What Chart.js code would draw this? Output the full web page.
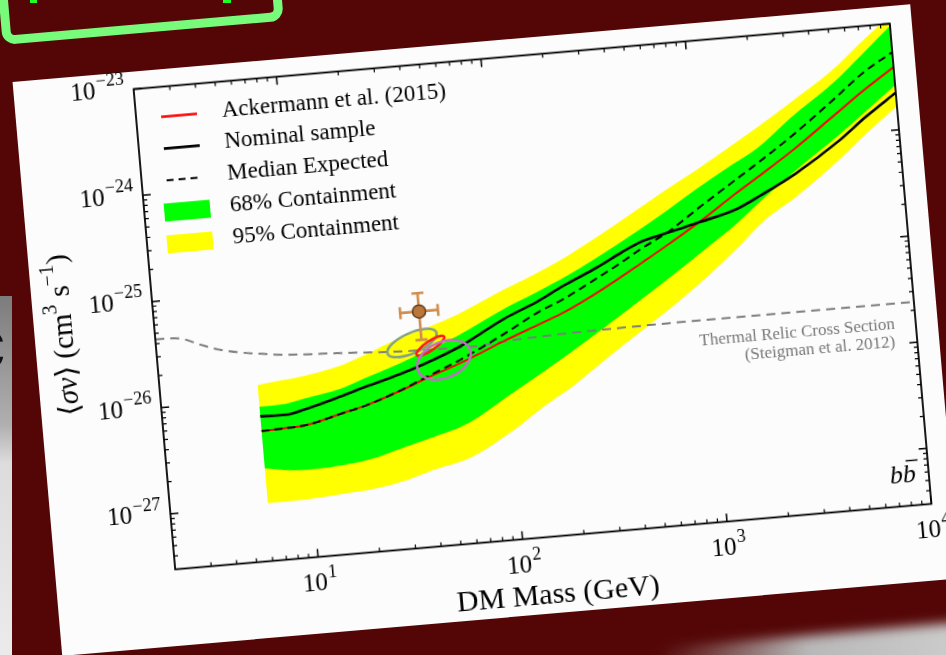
<!DOCTYPE html>
<html><head><meta charset="utf-8">
<script src="https://cdn.jsdelivr.net/npm/chart.js@4.4.1/dist/chart.umd.min.js"></script>
<style>
html,body{margin:0;padding:0;}
body{width:946px;height:655px;overflow:hidden;background:#540606;position:relative;}
#titlebox{position:absolute;left:-2px;top:-67px;width:282px;height:100px;box-sizing:border-box;border:9px solid #78fb7a;border-radius:13px;transform:rotate(-4.95deg);}
.gbit{position:absolute;top:0;height:3px;background:#22ff22;}
#strip{position:absolute;left:0;top:296px;width:12px;height:370px;background:linear-gradient(to bottom,#7c7c7c 0%,#b0b0b0 35%,#dcdcdc 45%,#ececec 100%);overflow:hidden;}
#strip span{position:absolute;left:-30px;top:8px;font:70px "Liberation Sans",sans-serif;color:#111;}
#floor{position:absolute;left:660px;top:634px;width:330px;height:50px;background:linear-gradient(to right,rgba(190,190,190,0) 0%,#b8b8b8 45%,#d0d0d0 100%);filter:blur(6px);transform:rotate(-4.95deg);}
#rot{position:absolute;left:0;top:0;width:946px;height:655px;transform-origin:532.5px 296.5px;transform:rotate(-4.95deg);}
#card{position:absolute;left:33px;top:38px;width:901px;height:576px;background:#fcfcfc;}
canvas{position:absolute;left:0;top:0;}
</style></head>
<body>
<div id="titlebox"></div>
<div class="gbit" style="left:30px;width:7px"></div>
<div class="gbit" style="left:223px;width:8px"></div>
<div id="strip"><span>c</span></div>
<div id="floor"></div>
<div id="rot">
  <div id="card"></div>
  <canvas id="c" width="946" height="655"></canvas>
</div>
<script>
// ---------------- data ----------------
const lineMass       = [6,7,8,10,15,20,30,40,60,100,150,200,300,400,500,700,1000,1500,2000,3000,5000,7000,10000];
const nominalSample  = [6.9e-27,6.8e-27,6.8e-27,7.4e-27,9.1e-27,1.07e-26,1.32e-26,1.58e-26,2.14e-26,3.55e-26,4.9e-26,6.46e-26,9.1e-26,1.2e-25,1.45e-25,1.7e-25,2.0e-25,2.45e-25,3.16e-25,4.7e-25,8.7e-25,1.41e-24,2.24e-24];
const ackermann2015  = [5.0e-27,5.05e-27,5.1e-27,5.25e-27,6.3e-27,7.2e-27,9.3e-27,1.15e-26,1.51e-26,2.24e-26,3.0e-26,3.7e-26,5.4e-26,7.3e-26,9.3e-26,1.35e-25,2.04e-25,3.4e-25,4.8e-25,7.9e-25,1.58e-24,2.5e-24,3.9e-24];
const medianExpected = [5.0e-27,5.05e-27,5.1e-27,5.25e-27,6.3e-27,7.2e-27,9.4e-27,1.18e-26,1.62e-26,2.6e-26,3.9e-26,4.9e-26,7.3e-26,9.8e-26,1.25e-25,1.75e-25,2.75e-25,4.5e-25,6.4e-25,1.07e-24,2.2e-24,3.6e-24,5.4e-24];

const bandMass    = [6,8,10,15,20,30,40,60,100,150,200,300,500,700,1000,1500,2000,3000,5000,7000,10000];
const band95Upper = [1.36e-26,1.44e-26,1.51e-26,1.74e-26,2.09e-26,2.82e-26,3.31e-26,4.27e-26,6.53e-26,8.9e-26,1.135e-25,1.70e-25,2.95e-25,4.27e-25,6.17e-25,9.66e-25,1.33e-24,2.16e-24,4.07e-24,6.9e-24,1.17e-23];
const band68Upper = [8.5e-27,8.6e-27,9.3e-27,1.07e-26,1.29e-26,1.66e-26,2.04e-26,2.75e-26,4.37e-26,6.0e-26,7.6e-26,1.12e-25,1.9e-25,2.75e-25,4.17e-25,6.46e-25,8.7e-25,1.58e-24,3.1e-24,5.3e-24,9.5e-24];
const band68Lower = [2.24e-27,2.04e-27,2.0e-27,2.09e-27,2.24e-27,2.75e-27,3.16e-27,3.98e-27,6.9e-27,1.07e-26,1.48e-26,2.4e-26,4.47e-26,6.76e-26,1.07e-25,1.82e-25,2.82e-25,5.0e-25,9.8e-25,1.58e-24,2.63e-24];
const band95Lower = [1.05e-27,1.05e-27,1.07e-27,1.12e-27,1.17e-27,1.35e-27,1.58e-27,1.9e-27,3.16e-27,5.25e-27,7.2e-27,1.23e-26,2.34e-26,3.6e-26,5.9e-26,1.1e-25,1.78e-25,2.9e-25,5.9e-25,1.0e-24,1.66e-24];

const thermalMass  = [2,2.6,3.3,4,5,6,8,10,15,20,30,50,70,100,200,500,1000,2000,5000,10000];
const thermalRelic = [4.4e-26,4.3e-26,3.6e-26,3.15e-26,2.85e-26,2.7e-26,2.5e-26,2.42e-26,2.33e-26,2.25e-26,2.15e-26,2.1e-26,2.08e-26,2.2e-26,2.32e-26,2.38e-26,2.4e-26,2.4e-26,2.4e-26,2.4e-26];

const gceMass = [39.2], gceSigma = [4.9e-26];
const gceMassLow = [31.7], gceMassHigh = [48.5];
const gceSigmaLow = [2.65e-26], gceSigmaHigh = [7.3e-26];

const contourColors    = ['#84a184','#ff1a1a','#c46cc8'];
const contourAxisStart = [[26.5,2.09e-26],[36.6,1.93e-26],[36.6,1.37e-26]];
const contourAxisEnd   = [[46.6,3.04e-26],[50.6,2.73e-26],[66.7,1.99e-26]];
const contourMinor     = [0.38,0.28,0.64];

const xMajorTicks = [10,100,1000,10000];
const xTickExp    = ['1','2','3','4'];
const yMajorTicks = [1e-27,1e-26,1e-25,1e-24,1e-23];
const yTickExp    = ['\u221227','\u221226','\u221225','\u221224','\u221223'];

const xLabel = 'DM Mass (GeV)';
const thermalText = ['Thermal Relic Cross Section','(Steigman et al. 2012)'];

// ---------------- helpers ----------------
const SERIF = '"Liberation Serif","DejaVu Serif",serif';
const pts = (xs, ys) => xs.map((x, i) => ({x, y: ys[i]}));

const common = {pointRadius:0, borderWidth:0, borderColor:'rgba(0,0,0,0)', clip:0, cubicInterpolationMode:'monotone'};

const datasets = [
  {...common, label:'95% Containment', data:pts(bandMass, band95Upper), fill:'+1', backgroundColor:'#ffff00', order:10, kind:'patch'},
  {...common, label:'_95lo', data:pts(bandMass, band95Lower), fill:false, order:10},
  {...common, label:'68% Containment', data:pts(bandMass, band68Upper), fill:'+1', backgroundColor:'#00ff00', order:9, kind:'patch'},
  {...common, label:'_68lo', data:pts(bandMass, band68Lower), fill:false, order:9},
  {...common, label:'_thermal', data:pts(thermalMass, thermalRelic), fill:false, borderColor:'#7d7d7d', borderWidth:2, borderDash:[9,6], order:6},
  {...common, label:'Ackermann et al. (2015)', data:pts(lineMass, ackermann2015), fill:false, borderColor:'#ff0000', borderWidth:2, order:5, kind:'line'},
  {...common, label:'Median Expected', data:pts(lineMass, medianExpected), fill:false, borderColor:'#000', borderWidth:2, borderDash:[8,5], order:4, kind:'dash'},
  {...common, label:'Nominal sample', data:pts(lineMass, nominalSample), fill:false, borderColor:'#000', borderWidth:2.6, order:3, kind:'line'},
  {label:'_gce', data:pts(gceMass, gceSigma), showLine:false, pointRadius:6.5, pointBackgroundColor:'#b9773b', pointBorderColor:'#5e3d1c', pointBorderWidth:1.5, clip:false, order:0}
];
const legendOrder = ['Ackermann et al. (2015)','Nominal sample','Median Expected','68% Containment','95% Containment'];

function drawRich(ctx, pieces, x, y, align) {
  let W = 0;
  pieces.forEach(p => { ctx.font = p.f; p.w = ctx.measureText(p.t).width; W += p.w + (p.gap||0); });
  let cx = align === 'right' ? x - W : (align === 'left' ? x : x - W / 2);
  ctx.textAlign = 'left'; ctx.textBaseline = 'middle';
  pieces.forEach(p => { ctx.font = p.f; ctx.fillText(p.t, cx + (p.gap||0), y + (p.dy||0)); cx += p.w + (p.gap||0); });
}

const decor = {
  id: 'decor',
  beforeDatasetDraw(chart, args) {
    if (args.index !== datasets.length - 1) return;
    const {ctx, scales:{x, y}} = chart;
    ctx.save();
    contourColors.forEach((col, i) => {
      const x1 = x.getPixelForValue(contourAxisStart[i][0]), y1 = y.getPixelForValue(contourAxisStart[i][1]);
      const x2 = x.getPixelForValue(contourAxisEnd[i][0]),   y2 = y.getPixelForValue(contourAxisEnd[i][1]);
      const rx = Math.hypot(x2 - x1, y2 - y1) / 2;
      ctx.beginPath();
      ctx.ellipse((x1 + x2) / 2, (y1 + y2) / 2, rx, rx * contourMinor[i], Math.atan2(y2 - y1, x2 - x1), 0, Math.PI * 2);
      ctx.strokeStyle = col; ctx.lineWidth = 2.6; ctx.stroke();
    });
    ctx.strokeStyle = '#cf8d4e'; ctx.lineWidth = 2.6; ctx.lineCap = 'butt';
    gceMass.forEach((m, i) => {
      const px = x.getPixelForValue(m), py = y.getPixelForValue(gceSigma[i]);
      const xl = x.getPixelForValue(gceMassLow[i]), xh = x.getPixelForValue(gceMassHigh[i]);
      const yl = y.getPixelForValue(gceSigmaLow[i]), yh = y.getPixelForValue(gceSigmaHigh[i]);
      const c = 6;
      ctx.beginPath();
      ctx.moveTo(xl, py); ctx.lineTo(xh, py);
      ctx.moveTo(px, yl); ctx.lineTo(px, yh);
      ctx.moveTo(xl, py - c); ctx.lineTo(xl, py + c);
      ctx.moveTo(xh, py - c); ctx.lineTo(xh, py + c);
      ctx.moveTo(px - c, yl); ctx.lineTo(px + c, yl);
      ctx.moveTo(px - c, yh); ctx.lineTo(px + c, yh);
      ctx.stroke();
    });
    ctx.restore();
  },
  afterDraw(chart) {
    const {ctx, chartArea:a, scales:{x, y}} = chart;
    ctx.save();
    ctx.strokeStyle = '#000'; ctx.fillStyle = '#000';
    ctx.lineWidth = 1.2;
    ctx.beginPath();
    for (let d = 1; d <= 1000; d *= 10) for (let k = 2; k <= 9; k++) {
      const v = k * d; if (v <= x.min || v >= x.max) continue;
      const px = x.getPixelForValue(v);
      ctx.moveTo(px, a.bottom); ctx.lineTo(px, a.bottom - 4);
      ctx.moveTo(px, a.top); ctx.lineTo(px, a.top + 4);
    }
    for (let d = 1e-28; d <= 1e-24; d *= 10) for (let k = 2; k <= 9; k++) {
      const v = k * d; if (v <= y.min * 0.999 || v >= y.max) continue;
      const py = y.getPixelForValue(v);
      ctx.moveTo(a.left, py); ctx.lineTo(a.left + 4, py);
      ctx.moveTo(a.right, py); ctx.lineTo(a.right - 4, py);
    }
    ctx.stroke();
    ctx.lineWidth = 1.5;
    ctx.beginPath();
    xMajorTicks.forEach(v => { const px = x.getPixelForValue(v);
      ctx.moveTo(px, a.bottom); ctx.lineTo(px, a.bottom - 8);
      ctx.moveTo(px, a.top); ctx.lineTo(px, a.top + 8); });
    yMajorTicks.forEach(v => { const py = y.getPixelForValue(v);
      ctx.moveTo(a.left, py); ctx.lineTo(a.left + 8, py);
      ctx.moveTo(a.right, py); ctx.lineTo(a.right - 8, py); });
    ctx.stroke();
    ctx.lineWidth = 1.8;
    ctx.strokeRect(a.left, a.top, a.right - a.left, a.bottom - a.top);
    // tick labels
    const F1 = '25px ' + SERIF, F2 = '18px ' + SERIF;
    xMajorTicks.forEach((v, i) => drawRich(ctx, [{t:'10', f:F1}, {t:xTickExp[i], f:F2, dy:-10, gap:1}], x.getPixelForValue(v), a.bottom + 27, 'center'));
    yMajorTicks.forEach((v, i) => drawRich(ctx, [{t:'10', f:F1}, {t:yTickExp[i], f:F2, dy:-10, gap:1}], a.left - 9, y.getPixelForValue(v), 'right'));
    // axis titles
    ctx.font = '30px ' + SERIF; ctx.textAlign = 'center'; ctx.textBaseline = 'middle';
    ctx.fillText(xLabel, (a.left + a.right) / 2, a.bottom + 59);
    ctx.save();
    ctx.translate(a.left - 90, (a.top + a.bottom) / 2 - 2);
    ctx.rotate(-Math.PI / 2);
    const T = '29px ' + SERIF, TI = 'italic 29px ' + SERIF, TS = '20px ' + SERIF;
    drawRich(ctx, [{t:'\u27E8', f:T}, {t:'\u03C3v', f:TI}, {t:'\u27E9', f:T}, {t:' (cm', f:T}, {t:'3', f:TS, dy:-11}, {t:' s', f:T}, {t:'\u22121', f:TS, dy:-11}, {t:')', f:T}], 0, 0, 'center');
    ctx.restore();
    // legend
    const lx = a.left + 43, tx = a.left + 86;
    legendOrder.forEach((lab, i) => {
      const ds = datasets.find(d => d.label === lab);
      const ry = a.top + 30 + i * 31.9;
      ctx.save();
      if (ds.kind === 'patch') {
        ctx.fillStyle = ds.backgroundColor; ctx.fillRect(lx - 23, ry - 9, 46, 18);
      } else {
        ctx.strokeStyle = ds.borderColor; ctx.lineWidth = ds.kind === 'dash' ? 2 : 2.6;
        ctx.setLineDash(ds.kind === 'dash' ? [7, 5] : []);
        ctx.beginPath(); ctx.moveTo(lx - 18, ry); ctx.lineTo(lx + 18, ry); ctx.stroke();
      }
      ctx.restore();
      ctx.fillStyle = '#000'; ctx.font = '23px ' + SERIF; ctx.textAlign = 'left'; ctx.textBaseline = 'middle';
      ctx.fillText(lab, tx, ry - 1);
    });
    // thermal relic annotation
    ctx.fillStyle = '#777'; ctx.font = '17px ' + SERIF; ctx.textAlign = 'right'; ctx.textBaseline = 'middle';
    ctx.fillText(thermalText[0], a.right - 21, a.top + 300);
    ctx.fillText(thermalText[1], a.right - 22, a.top + 318);
    // channel label b bbar
    ctx.fillStyle = '#000'; ctx.font = 'italic 26px ' + SERIF; ctx.textAlign = 'left'; ctx.textBaseline = 'alphabetic';
    const wb = ctx.measureText('b').width;
    const bx = a.right - 13 - 2 * wb, by = a.bottom - 24;
    ctx.fillText('b', bx, by); ctx.fillText('b', bx + wb, by);
    ctx.lineWidth = 1.4; ctx.beginPath(); ctx.moveTo(bx + wb + 4, by - 21); ctx.lineTo(bx + 2 * wb + 3, by - 21); ctx.stroke();
    ctx.restore();
  }
};

new Chart(document.getElementById('c').getContext('2d'), {
  type: 'line',
  data: {datasets},
  options: {
    responsive: false, animation: false, events: [],
    layout: {padding: {left: 153, top: 55.5, right: 34, bottom: 117.5}},
    scales: {
      x: {type: 'logarithmic', min: 2, max: 10000, display: false},
      y: {type: 'logarithmic', min: 3e-28, max: 1e-23, display: false}
    },
    plugins: {legend: {display: false}, tooltip: {enabled: false}, filler: {propagate: false}}
  },
  plugins: [decor]
});
</script>
</body></html>
